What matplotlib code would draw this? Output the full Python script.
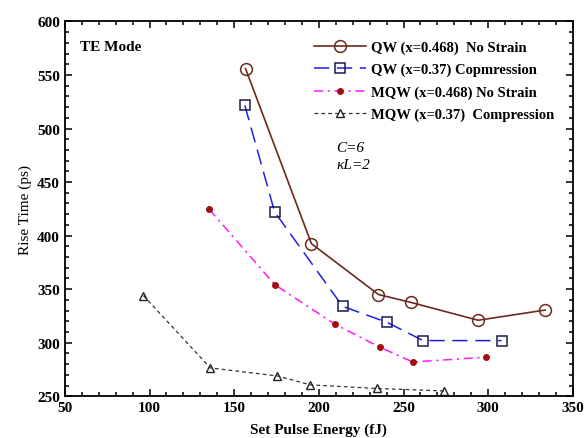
import matplotlib
matplotlib.use("Agg")
import matplotlib.pyplot as plt
from matplotlib.ticker import MultipleLocator

plt.rcParams['font.family'] = ['Liberation Serif', 'DejaVu Serif']

# QW (x=0.468) No Strain
qw_ns_x = [156.7, 195.6, 235.2, 254.5, 294.0, 333.6]
qw_ns_y = [556.0, 392.5, 345.0, 337.6, 321.0, 330.5]
# QW (x=0.37) Compression
qw_c_x = [156.3, 173.9, 214.0, 240.3, 261.5, 307.9]
qw_c_y = [521.5, 422.0, 334.0, 319.0, 302.0, 302.0]
# MQW (x=0.468) No Strain
mqw_ns_x = [135.3, 173.9, 209.4, 236.1, 255.5, 298.4]
mqw_ns_y = [424.5, 354.3, 317.4, 295.8, 282.0, 286.5]
# MQW (x=0.37) Compression
mqw_c_x = [96.4, 135.9, 175.5, 194.9, 234.2, 274.1]
mqw_c_y = [344.0, 276.5, 269.0, 260.7, 257.3, 255.0]

labels = ['QW (x=0.468)  No Strain', 'QW (x=0.37) Copmression',
          'MQW (x=0.468) No Strain', 'MQW (x=0.37)  Compression']

fig = plt.figure(figsize=(5.84, 4.39), dpi=100)
ax = fig.add_axes([0.111, 0.095, 0.87, 0.854])

ax.plot(qw_ns_x, qw_ns_y, '-', color='#6b2a1e', lw=1.2, marker='o', ms=8.5,
        mfc='none', mec='#6b2a1e', mew=1.1, label=labels[0])
ax.plot(qw_c_x, qw_c_y, color='#1f1fe8', lw=1.1, dashes=(10, 5), marker='s', ms=7.5,
        mfc='none', mec='#1a1a50', mew=1.1, label=labels[1])
ax.plot(mqw_ns_x, mqw_ns_y, color='#ff1aff', lw=1.1, dashes=(6, 3, 1.5, 3), marker='o',
        ms=4, mfc='#a01010', mec='#a01010', label=labels[2])
ax.plot(mqw_c_x, mqw_c_y, color='#333333', lw=0.9, dashes=(3, 2.5), marker='^', ms=6,
        mfc='none', mec='#222222', mew=1.0, label=labels[3])

ax.set_xlim(50, 350)
ax.set_ylim(250, 600)
ax.xaxis.set_major_locator(MultipleLocator(50))
ax.xaxis.set_minor_locator(MultipleLocator(10))
ax.yaxis.set_major_locator(MultipleLocator(50))
ax.yaxis.set_minor_locator(MultipleLocator(10))
ax.tick_params(which='both', direction='in', top=True, right=True, width=1.1)
ax.tick_params(which='major', length=5, labelsize=11)
ax.tick_params(which='minor', length=3)
for lab in ax.get_xticklabels() + ax.get_yticklabels():
    lab.set_fontweight('bold')
for s in ax.spines.values():
    s.set_linewidth(1.3)

ax.set_xlabel('Set Pulse Energy (fJ)', fontsize=11, fontweight='bold', labelpad=6)
ax.set_ylabel('Rise Time (ps)', fontsize=11)

ax.text(0.03, 0.95, 'TE Mode', transform=ax.transAxes, fontsize=11,
        fontweight='bold', va='top', ha='left')
ax.text(210.5, 482, 'C=6', fontsize=11, style='italic', va='center')
ax.text(210.5, 466, 'κL=2', fontsize=11, style='italic', va='center')

leg = ax.legend(loc='upper right', frameon=False,
                prop={'weight': 'bold', 'size': 10.5}, handlelength=3.6,
                borderaxespad=0.9, labelspacing=0.62, handletextpad=0.3)

fig.savefig('out.png', dpi=100)
